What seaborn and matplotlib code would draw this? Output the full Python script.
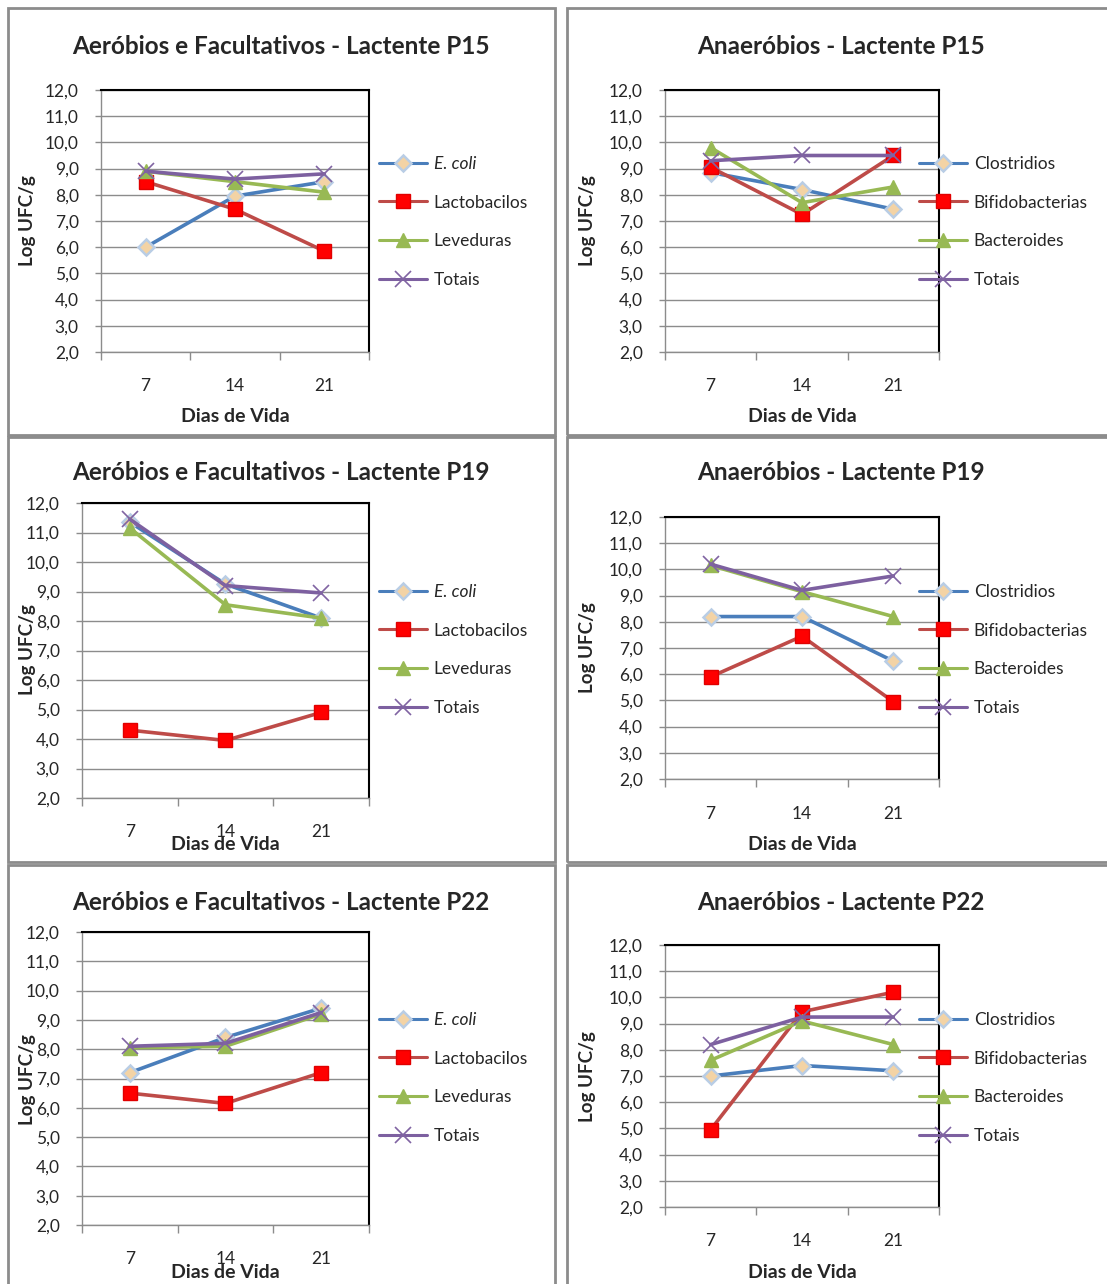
import numpy as np
import pandas as pd
import seaborn as sns
import matplotlib
matplotlib.use("Agg")
import matplotlib.pyplot as plt
from matplotlib.patches import Rectangle
from matplotlib.ticker import FixedLocator, NullFormatter

# ---------------- data ----------------
dias = ["7", "14", "21"]
y_ticks = [2, 3, 4, 5, 6, 7, 8, 9, 10, 11, 12]
y_tick_labels = ["2,0", "3,0", "4,0", "5,0", "6,0", "7,0", "8,0", "9,0", "10,0", "11,0", "12,0"]

aer_labels = ["E. coli", "Lactobacilos", "Leveduras", "Totais"]
ana_labels = ["Clostridios", "Bifidobacterias", "Bacteroides", "Totais"]

p15_aer_ecoli = [6.0, 7.95, 8.5]
p15_aer_lacto = [8.5, 7.45, 5.85]
p15_aer_lev = [8.9, 8.5, 8.1]
p15_aer_tot = [8.9, 8.6, 8.8]

p15_ana_clos = [8.85, 8.2, 7.45]
p15_ana_bifi = [9.05, 7.25, 9.5]
p15_ana_bact = [9.8, 7.7, 8.3]
p15_ana_tot = [9.3, 9.5, 9.5]

p19_aer_ecoli = [11.35, 9.25, 8.1]
p19_aer_lacto = [4.3, 3.95, 4.9]
p19_aer_lev = [11.15, 8.55, 8.1]
p19_aer_tot = [11.45, 9.2, 8.95]

p19_ana_clos = [8.2, 8.2, 6.5]
p19_ana_bifi = [5.9, 7.45, 4.95]
p19_ana_bact = [10.15, 9.15, 8.2]
p19_ana_tot = [10.2, 9.2, 9.75]

p22_aer_ecoli = [7.2, 8.4, 9.4]
p22_aer_lacto = [6.5, 6.15, 7.2]
p22_aer_lev = [8.05, 8.1, 9.2]
p22_aer_tot = [8.1, 8.2, 9.25]

p22_ana_clos = [7.0, 7.4, 7.2]
p22_ana_bifi = [4.95, 9.45, 10.2]
p22_ana_bact = [7.6, 9.1, 8.2]
p22_ana_tot = [8.2, 9.25, 9.25]

titles = ["Aeróbios e Facultativos - Lactente P15", "Anaeróbios - Lactente P15",
          "Aeróbios e Facultativos - Lactente P19", "Anaeróbios - Lactente P19",
          "Aeróbios e Facultativos - Lactente P22", "Anaeróbios - Lactente P22"]

panel_series = [
    (aer_labels, [p15_aer_ecoli, p15_aer_lacto, p15_aer_lev, p15_aer_tot]),
    (ana_labels, [p15_ana_clos, p15_ana_bifi, p15_ana_bact, p15_ana_tot]),
    (aer_labels, [p19_aer_ecoli, p19_aer_lacto, p19_aer_lev, p19_aer_tot]),
    (ana_labels, [p19_ana_clos, p19_ana_bifi, p19_ana_bact, p19_ana_tot]),
    (aer_labels, [p22_aer_ecoli, p22_aer_lacto, p22_aer_lev, p22_aer_tot]),
    (ana_labels, [p22_ana_clos, p22_ana_bifi, p22_ana_bact, p22_ana_tot]),
]

# ---------------- style ----------------
sns.set_style("white")
plt.rcParams['font.family'] = ['Lato', 'DejaVu Sans']

W, H = 1107, 1284
fig = plt.figure(figsize=(W / 100, H / 100), dpi=100)
fig.patch.set_facecolor("white")

line_colors = ["#4A7EBB", "#BE4B48", "#98B954", "#7D60A0"]
marker_styles = [
    dict(marker="D", markersize=8.5, markerfacecolor="#F3D3A5", markeredgecolor="#B9CDE5", markeredgewidth=1.8),
    dict(marker="s", markersize=10.5, markerfacecolor="#FF0000", markeredgecolor="#E00000", markeredgewidth=1),
    dict(marker="^", markersize=10.5, markerfacecolor="#98B954", markeredgecolor="#98B954", markeredgewidth=1),
    dict(marker="x", markersize=11, markerfacecolor="none", markeredgecolor="#8064A2", markeredgewidth=1.2),
]

# pixel layout: (axes left, right, top, bottom, title_y, ylabel_x, ylabel_y, xtick_y, xlabel_y, legend_x)
layout = [
    (101, 369, 90, 352, 46, 27, 221, 387, 417, 379),
    (665, 939, 90, 352, 46, 587, 221, 387, 417, 919),
    (82, 369, 503, 798, 473, 27, 650, 833, 845, 379),
    (665, 939, 517, 779, 473, 587, 648, 815, 845, 919),
    (82, 369, 932, 1225, 902, 27, 1080, 1260, 1272, 379),
    (665, 939, 945, 1207, 902, 587, 1077, 1242, 1272, 919),
]
title_cx = [281, 841, 281, 841, 281, 841]
legend_top = [163, 163, 591, 591, 1019, 1019]

# panel borders
borders = [(8, 8, 555, 435), (567, 8, 1112, 435),
           (8, 437, 555, 862), (567, 437, 1112, 862),
           (8, 865, 555, 1292), (567, 865, 1112, 1292)]
for (x0, y0, x1, y1) in borders:
    fig.add_artist(Rectangle((x0 / W, 1 - y1 / H), (x1 - x0) / W, (y1 - y0) / H,
                             transform=fig.transFigure, fill=False,
                             edgecolor="#8C8C8C", linewidth=2))

xpos = [0, 1, 2]
for i, (labels, series) in enumerate(panel_series):
    l, r, t, b, ty, ylx, yly, xty, xly, lgx = layout[i]
    ax = fig.add_axes([l / W, 1 - b / H, (r - l) / W, (b - t) / H])
    ax.set_facecolor("white")

    for j, (lab, vals) in enumerate(zip(labels, series)):
        df = pd.DataFrame({"x": xpos, "y": vals})
        sns.lineplot(data=df, x="x", y="y", ax=ax, color=line_colors[j], linewidth=2.6,
                     label=lab, zorder=3 + j, **marker_styles[j])

    ax.set_xlim(-0.5, 2.5)
    ax.set_ylim(2, 12)
    ax.set_yticks(y_ticks)
    ax.set_yticklabels(y_tick_labels, fontsize=12.5)
    ax.yaxis.grid(True, color="#8C8C8C", linewidth=1)
    ax.xaxis.grid(False)
    ax.set_axisbelow(True)
    ax.tick_params(axis="y", which="major", direction="out", length=4, width=1,
                   color="#8C8C8C", pad=12, left=True, labelsize=12.5)

    ax.xaxis.set_major_locator(FixedLocator([-0.5, 0.5, 1.5, 2.5]))
    ax.xaxis.set_major_formatter(NullFormatter())
    ax.xaxis.set_minor_locator(FixedLocator(xpos))
    ax.set_xticklabels(dias, minor=True, fontsize=12.5)
    ax.tick_params(axis="x", which="major", direction="out", length=6, width=1,
                   color="#8C8C8C", bottom=True)
    ax.tick_params(axis="x", which="minor", length=0, pad=(xty - b - 9) * 0.72)

    for s in ["left", "bottom"]:
        ax.spines[s].set_color("#8C8C8C")
        ax.spines[s].set_linewidth(1)
    for s in ["top", "right"]:
        ax.spines[s].set_color("black")
        ax.spines[s].set_linewidth(1.5)

    ax.set_xlabel("")
    ax.set_ylabel("")
    fig.text(title_cx[i] / W, 1 - ty / H, titles[i], ha="center", va="center",
             fontsize=17.5, fontweight="bold")
    fig.text(ylx / W, 1 - yly / H, "Log UFC/g", ha="center", va="center", rotation=90,
             fontsize=13.5, fontweight="bold")
    fig.text(((l + r) / 2) / W, 1 - xly / H, "Dias de Vida", ha="center", va="center",
             fontsize=14, fontweight="bold")

    leg = ax.legend(loc="upper left", bbox_to_anchor=(lgx / W, 1 - (legend_top[i] - 7) / H),
                    bbox_transform=fig.transFigure, frameon=False, fontsize=12.5,
                    handlelength=2.75, handletextpad=0.4, labelspacing=1.3,
                    borderaxespad=0, borderpad=0)
    for line in leg.get_lines():
        line.set_linewidth(2.2)
    if labels[0] == "E. coli":
        leg.get_texts()[0].set_fontstyle("italic")

fig.savefig("out.png", dpi=100, facecolor="white")
